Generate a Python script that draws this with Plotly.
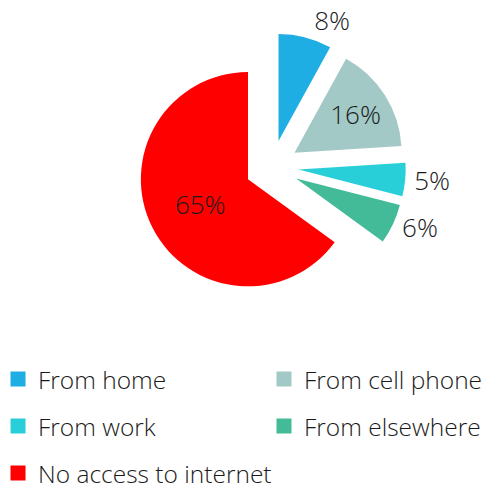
import plotly.graph_objects as go

labels = ["From home", "From cell phone", "From work", "From elsewhere", "No access to internet"]
values = [8, 16, 5, 6, 65]
colors = ["#1eaee3", "#a2c9c6", "#28cfd8", "#43bb98", "#ff0000"]
text_pos = ["outside", "inside", "outside", "outside", "inside"]
legend_column = ["legend", "legend2", "legend", "legend2", "legend"]

FONT = "Open Sans"
TEXT_COLOR = "#1a1a1a"

fig = go.Figure()
fig.add_trace(go.Pie(
    labels=labels,
    values=values,
    sort=False,
    direction="clockwise",
    rotation=0,
    pull=[0.25] * len(values),
    marker=dict(colors=colors, line=dict(width=0)),
    texttemplate="%{percent:.0%}",
    textposition=text_pos,
    insidetextorientation="horizontal",
    textfont=dict(family=FONT, size=26, color=TEXT_COLOR, weight=300),
    domain=dict(x=[0.2656, 0.8136], y=[0.3984, 0.9484]),
    hoverinfo="none",
    showlegend=False,
))

# legend entries (two columns) built from the same labels / colours
for lab, col, leg in zip(labels, colors, legend_column):
    fig.add_trace(go.Scatter(
        x=[None], y=[None], mode="markers",
        marker=dict(symbol="square", size=15, color=col),
        name=lab, legend=leg, legendgroup=lab, hoverinfo="none",
    ))

legend_common = dict(
    orientation="v",
    yanchor="top",
    xanchor="left",
    y=0.2842,
    font=dict(family=FONT, size=24.5, color=TEXT_COLOR, weight=300),
    bgcolor="rgba(0,0,0,0)",
    itemclick=False, itemdoubleclick=False,
    traceorder="grouped",
    tracegroupgap=12.2,
)

fig.update_layout(
    width=489, height=487,
    margin=dict(l=0, r=0, t=0, b=0, autoexpand=False),
    paper_bgcolor="white",
    plot_bgcolor="white",
    font=dict(family=FONT, color=TEXT_COLOR, weight=300),
    xaxis=dict(visible=False),
    yaxis=dict(visible=False),
    showlegend=True,
    legend=dict(x=-0.0204, **legend_common),
    legend2=dict(x=0.5235, **legend_common),
)

fig.write_html("out.html")
